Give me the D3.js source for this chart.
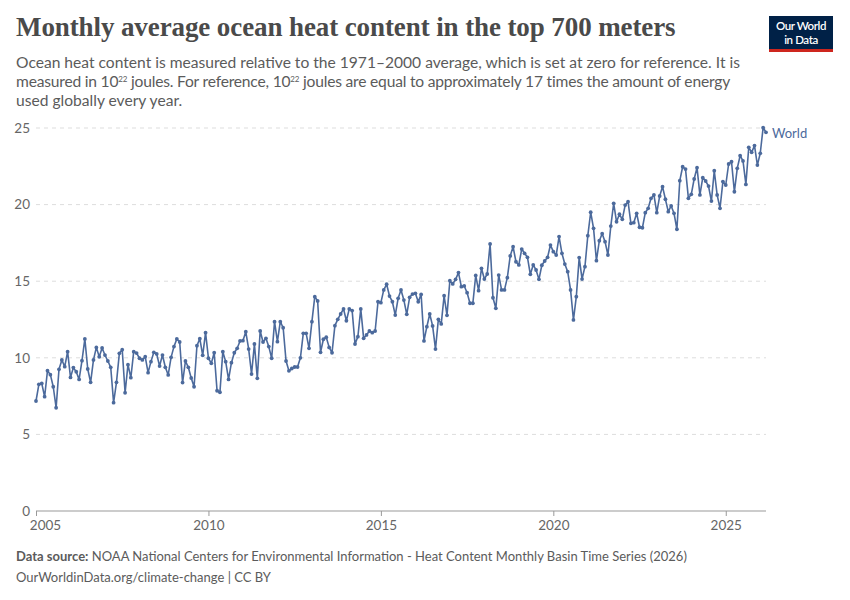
<!DOCTYPE html>
<html>
<head>
<meta charset="utf-8">
<script src="https://cdn.jsdelivr.net/npm/d3@7"></script>
<style>
  body { margin: 0; background: #fff; }
  svg { display: block; font-family: Lato, "Noto Sans", sans-serif; }
</style>
</head>
<body>
<svg id="chart" width="850" height="600"></svg>
<script>
"use strict";

// monthly values, 10^22 joules, starting January 2005
var startYear = 2005;
var seriesName = 'World';
var heatContent = [
  7.18, 8.27, 8.33, 7.46, 9.16, 8.90, 8.11, 6.74, 9.25, 9.86, 9.42, 10.40,
  8.72, 9.36, 9.09, 8.59, 9.81, 11.23, 9.27, 8.40, 9.86, 10.68, 10.07, 10.64,
  10.18, 9.79, 9.38, 7.07, 8.40, 10.29, 10.53, 7.72, 9.55, 8.70, 10.40, 10.31,
  9.97, 9.86, 10.07, 9.03, 9.75, 10.36, 10.25, 9.46, 10.18, 9.38, 8.88, 10.03,
  10.73, 11.23, 11.03, 8.38, 9.79, 9.38, 8.68, 8.11, 10.79, 11.25, 10.16, 11.64,
  9.97, 9.64, 10.33, 7.85, 7.75, 10.40, 9.75, 8.59, 9.68, 10.33, 10.62, 11.10,
  11.12, 11.70, 10.57, 8.94, 10.90, 8.66, 11.75, 11.03, 11.27, 10.73, 9.97, 12.36,
  11.05, 12.36, 11.96, 9.79, 9.15, 9.30, 9.40, 9.40, 10.00, 11.60, 11.60, 10.62,
  12.36, 13.99, 13.71, 10.36, 11.21, 11.34, 10.68, 10.33, 12.10, 12.51, 12.86, 13.19,
  12.42, 13.19, 13.08, 10.90, 11.38, 13.19, 11.27, 11.49, 11.75, 11.64, 11.75, 13.66,
  13.60, 14.43, 14.80, 14.03, 13.66, 12.79, 13.88, 14.43, 13.77, 12.84, 13.95, 14.16,
  14.21, 13.66, 14.14, 11.10, 12.03, 12.86, 12.08, 10.57, 12.51, 12.21, 14.05, 12.77,
  15.03, 14.82, 15.12, 15.56, 14.64, 14.69, 14.25, 13.56, 13.56, 15.38, 14.38, 15.84,
  15.14, 15.47, 17.43, 13.92, 13.23, 15.40, 14.43, 14.43, 15.23, 16.65, 17.25, 16.27,
  16.06, 17.10, 16.82, 16.56, 15.45, 16.06, 15.73, 15.12, 16.04, 16.32, 16.56, 17.36,
  16.93, 16.71, 17.91, 16.82, 16.12, 15.62, 14.43, 12.47, 13.99, 16.54, 15.14, 15.95,
  17.97, 19.50, 18.45, 16.34, 17.64, 18.10, 17.58, 16.71, 18.60, 20.08, 18.88, 19.37,
  19.04, 19.97, 20.19, 18.78, 18.82, 19.43, 18.52, 18.49, 19.47, 19.76, 20.41, 20.63,
  19.47, 20.56, 21.17, 20.35, 19.54, 19.91, 19.43, 18.39, 21.56, 22.47, 22.32, 20.41,
  20.67, 21.67, 22.41, 20.63, 21.76, 21.54, 21.21, 20.23, 22.21, 20.63, 19.76, 21.50,
  21.28, 22.65, 22.80, 20.84, 22.37, 23.19, 22.85, 21.32, 23.74, 23.41, 23.85, 22.58,
  23.35, 25.02, 24.72
];
var yTicks = [0, 5, 10, 15, 20, 25];
var xTicks = [2005, 2010, 2015, 2020, 2025];

var title = 'Monthly average ocean heat content in the top 700 meters';
var sourceLabel = 'Data source:';
var sourceText = ' NOAA National Centers for Environmental Information - Heat Content Monthly Basin Time Series (2026)';
var urlText = 'OurWorldinData.org/climate-change | CC BY';

var colors = {
  line: '#4c6a9c',
  title: '#4a4a4a',
  text: '#5b5b5b',
  axis: '#666',
  grid: '#dddddd'
};

var margin = { left: 36, right: 766, top: 128, bottom: 511 };

var data = heatContent.map(function(v, i) {
  return { t: startYear + i / 12, v: v };
});

var svg = d3.select('#chart');

var x = d3.scaleLinear()
  .domain(d3.extent(data, function(d) { return d.t; }))
  .range([margin.left, margin.right]);

var y = d3.scaleLinear()
  .domain([0, 25])
  .range([margin.bottom, margin.top]);

// header
svg.append('text')
  .attr('x', 16)
  .attr('y', 36)
  .attr('fill', colors.title)
  .style('font-family', '"Liberation Serif", "DejaVu Serif", serif')
  .style('font-weight', 'bold')
  .style('font-size', '27px')
  .style('letter-spacing', '-0.1px')
  .text(title);

var sub = svg.append('g')
  .attr('fill', colors.text)
  .style('font-size', '15.6px');

function subLine(yPos, parts, spacing) {
  var t = sub.append('text').attr('x', 16).attr('y', yPos);
  if (spacing) t.style('letter-spacing', spacing);
  parts.forEach(function(p) {
    var span = t.append('tspan').text(p.text);
    if (p.sup) {
      span.attr('dy', -5).style('font-size', '8px');
    } else if (p.after) {
      span.attr('dy', 5);
    }
  });
}

subLine(68, [{ text: 'Ocean heat content is measured relative to the 1971\u20132000 average, which is set at zero for reference. It is' }]);
subLine(87, [
  { text: 'measured in 10' }, { text: '22', sup: true },
  { text: ' joules. For reference, 10', after: true }, { text: '22', sup: true },
  { text: ' joules are equal to approximately 17 times the amount of energy', after: true }
], '-0.2px');
subLine(106, [{ text: 'used globally every year.' }]);

// logo
var logo = svg.append('g').attr('transform', 'translate(769,16)');
logo.append('rect').attr('width', 64).attr('height', 36).attr('fill', '#002147');
logo.append('rect').attr('y', 33).attr('width', 64).attr('height', 3).attr('fill', '#ce261e');
logo.append('text').attr('x', 32).attr('y', 14).attr('text-anchor', 'middle')
  .attr('fill', '#fff').style('font-size', '11.5px').style('font-weight', 600)
  .style('letter-spacing', '-0.4px').text('Our World');
logo.append('text').attr('x', 32).attr('y', 27.5).attr('text-anchor', 'middle')
  .attr('fill', '#fff').style('font-size', '11.5px').style('font-weight', 600)
  .style('letter-spacing', '-0.4px').text('in Data');

// y grid and labels
var yAxis = svg.append('g');
yAxis.selectAll('line.grid')
  .data(yTicks.filter(function(d) { return d > 0; }))
  .enter().append('line')
  .attr('class', 'grid')
  .attr('x1', margin.left).attr('x2', margin.right)
  .attr('y1', function(d) { return y(d); })
  .attr('y2', function(d) { return y(d); })
  .attr('stroke', colors.grid)
  .attr('stroke-dasharray', '4,4');

yAxis.selectAll('text')
  .data(yTicks)
  .enter().append('text')
  .attr('x', 30)
  .attr('y', function(d) { return y(d); })
  .attr('dy', '0.35em')
  .attr('text-anchor', 'end')
  .attr('fill', colors.axis)
  .style('font-size', '13.5px')
  .text(function(d) { return d; });

// x axis
var xAxis = svg.append('g')
  .attr('transform', 'translate(0,' + margin.bottom + ')')
  .call(d3.axisBottom(x).tickValues(xTicks).tickSize(5).tickPadding(4).tickFormat(d3.format('d')));
xAxis.select('.domain').attr('stroke', '#999').attr('d', 'M' + margin.left + ',0H' + margin.right);
xAxis.selectAll('.tick line').attr('stroke', '#999');
xAxis.selectAll('.tick text')
  .attr('fill', colors.axis)
  .style('font-size', '13.5px')
  .style('font-family', 'Lato, sans-serif')
  .attr('dx', function(d) { return d === startYear ? 9 : 0; });

// series
var lineFn = d3.line()
  .x(function(d) { return x(d.t); })
  .y(function(d) { return y(d.v); });

svg.append('path')
  .datum(data)
  .attr('d', lineFn)
  .attr('fill', 'none')
  .attr('stroke', colors.line)
  .attr('stroke-width', 1.6)
  .attr('stroke-linejoin', 'round');

svg.append('g').selectAll('circle')
  .data(data)
  .enter().append('circle')
  .attr('cx', function(d) { return x(d.t); })
  .attr('cy', function(d) { return y(d.v); })
  .attr('r', 1.9)
  .attr('fill', colors.line);

var last = data[data.length - 1];
svg.append('text')
  .attr('x', x(last.t) + 6)
  .attr('y', y(last.v) + 1)
  .attr('dy', '0.35em')
  .attr('fill', colors.line)
  .style('font-size', '13px')
  .text(seriesName);

// footer
var foot = svg.append('g').attr('fill', colors.text).style('font-size', '13px');
var src = foot.append('text').attr('x', 16).attr('y', 561);
src.append('tspan').style('font-weight', 'bold').text(sourceLabel);
src.append('tspan').text(sourceText);
foot.append('text').attr('x', 16).attr('y', 582).text(urlText);
</script>
</body>
</html>
